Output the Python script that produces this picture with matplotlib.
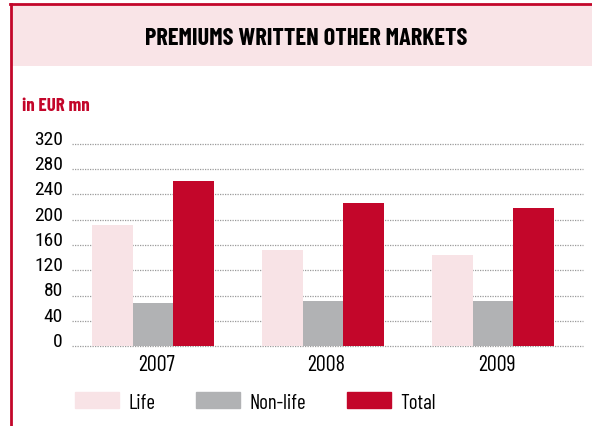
import matplotlib.pyplot as plt
from matplotlib.patches import Rectangle, Patch
from matplotlib.lines import Line2D

# --- data ---
years = ['2007', '2008', '2009']
life = [192, 152, 144]
non_life = [68, 71, 71]
total = [261, 227, 219]
yticks = [0, 40, 80, 120, 160, 200, 240, 280, 320]

# --- style ---
RED = '#C3062A'
PINK = '#F8E3E6'
GREY = '#B1B2B4'
plt.rcParams['font.family'] = ['Barlow Condensed', 'DejaVu Sans']

W, H = 592, 427
fig = plt.figure(figsize=(W / 100, H / 100), dpi=100)

# frame: red top / left rule and pink title band
fig.patches.append(Rectangle((12 / W, 1 - 67 / H), 1, 60.5 / H, transform=fig.transFigure,
                             facecolor='#F9E4E7', edgecolor='none', zorder=0))
fig.add_artist(Line2D([10 / W, 1], [1 - 5.3 / H, 1 - 5.3 / H], color=RED, lw=2.0,
                      transform=fig.transFigure))
fig.add_artist(Line2D([11.2 / W, 11.2 / W], [0, 1 - 5.3 / H], color=RED, lw=2.0,
                      transform=fig.transFigure))

fig.text(306 / W, 1 - 45 / H, 'PREMIUMS WRITTEN OTHER MARKETS', ha='center', va='baseline',
         fontsize=17.6, fontweight='bold', color='black')
fig.text(22.5 / W, 1 - 111 / H, 'in EUR mn', ha='left', va='baseline',
         fontsize=13.6, fontweight='bold', color=RED)

# axes area: gridlines span x 72..583, y 0 -> 347px, 320 -> 145px
ax = fig.add_axes([72 / W, 1 - 347 / H, (583 - 72) / W, (347 - 145) / H])
x = [0, 1, 2]
bw = 0.238
ax.bar([i - bw for i in x], life, bw, color=PINK, label='Life', zorder=3)
ax.bar(x, non_life, bw, color=GREY, label='Non-life', zorder=3)
ax.bar([i + bw for i in x], total, bw, color=RED, label='Total', zorder=3)

ax.set_xlim(-0.476, 2.529)
ax.set_ylim(0, 320)
ax.set_yticks(yticks)
ax.set_yticklabels([str(v) for v in yticks], fontsize=14,
                   family=['Roboto Condensed', 'DejaVu Sans'])
for lbl in ax.get_yticklabels():
    lbl.set_va('baseline')
ax.tick_params(axis='y', length=0, pad=6.5)

ax.set_xticks([i + 0.02 for i in x])
ax.set_xticklabels(years, fontsize=16)
ax.tick_params(axis='x', length=0, pad=5.8)

for v in yticks:
    ax.axhline(v, color='#9A9A9A', linestyle=(0, (1, 1)), linewidth=0.9, zorder=0, clip_on=False)
for s in ax.spines.values():
    s.set_visible(False)

handles = [Patch(color=PINK), Patch(color=GREY), Patch(color=RED)]
fig.legend(handles, ['Life', 'Non-life', 'Total'], ncol=3, frameon=False,
           loc='center left', bbox_to_anchor=(56 / W, 1 - 403 / H),
           fontsize=15, handlelength=2.1, handleheight=0.77, handletextpad=0.48,
           columnspacing=1.95)

fig.savefig('out.png', dpi=100)
